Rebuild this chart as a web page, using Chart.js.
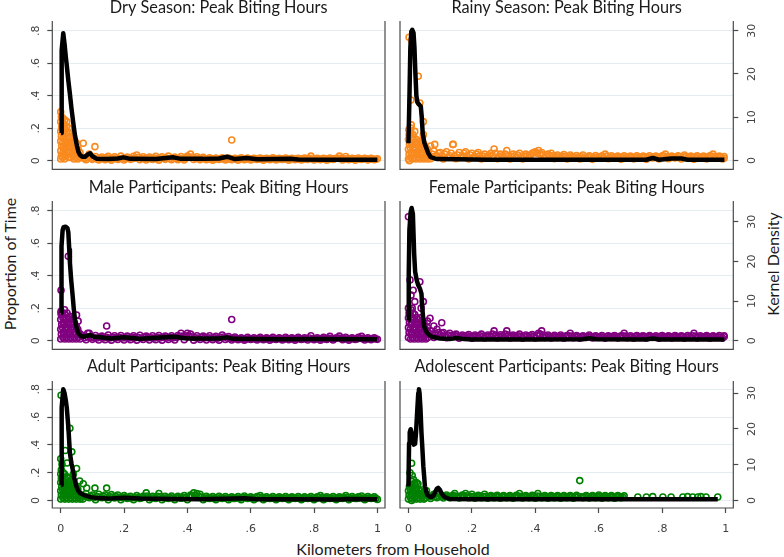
<!DOCTYPE html>
<html>
<head>
<meta charset="utf-8">
<script src="https://cdn.jsdelivr.net/npm/chart.js@4.4.1/dist/chart.umd.min.js"></script>
<style>
  html, body { margin: 0; padding: 0; background: #fff; }
  #page { position: relative; width: 784px; height: 557px; overflow: hidden; font-family: Lato, sans-serif; color: #1a1a1a; }
  #page canvas { position: absolute; }
  .lab { position: absolute; font-size: 16px; line-height: 1; white-space: nowrap; transform: translate(-50%, -50%); }
  .rot { transform: translate(-50%, -50%) rotate(-90deg); }
</style>
</head>
<body>
<div id="page">
  <div class="lab rot" style="left:10px; top:264px">Proportion of Time</div>
  <div class="lab rot" style="left:773px; top:264px">Kernel Density</div>
  <div class="lab" style="left:393px; top:549px">Kilometers from Household</div>
</div>
<script>
/* --------------- Tick labels --------------------- */
const kmTicks = [0, .2, .4, .6, .8, 1];
const propTicks = [0, .2, .4, .6, .8];
const densTicks = [0, 10, 20, 30];

const titles = [
    "Dry Season: Peak Biting Hours",
    "Rainy Season: Peak Biting Hours",
    "Male Participants: Peak Biting Hours",
    "Female Participants: Peak Biting Hours",
    "Adult Participants: Peak Biting Hours",
    "Adolescent Participants: Peak Biting Hours"
];

/* --------------- Proportion of time [km, proportion] --------------------- */
const dryPts = [
    [0,.30],[.002,.27],[0,.24],[.003,.21],[0,.18],[.002,.15],[0,.12],[.003,.09],[0,.06],[.002,.03],[0,.01],
    [.007,.26],[.008,.23],[.006,.20],[.008,.17],[.007,.14],[.006,.11],[.008,.08],[.007,.05],[.006,.02],
    [.013,.25],[.012,.22],[.014,.19],[.012,.16],[.013,.13],[.014,.10],[.012,.07],[.013,.04],[.012,.01],
    [.019,.24],[.018,.21],[.02,.18],[.019,.15],[.018,.12],[.02,.09],[.019,.06],[.018,.03],
    [.025,.20],[.026,.17],[.024,.14],[.025,.11],[.026,.08],[.024,.05],[.025,.02],
    [.031,.17],[.03,.14],[.032,.11],[.031,.08],[.03,.05],[.032,.02],
    [.037,.15],[.038,.12],[.036,.09],[.037,.06],[.038,.03],
    [.043,.13],[.042,.10],[.044,.07],[.043,.04],[.042,.01],
    [.049,.11],[.048,.08],[.05,.05],[.049,.02],
    [.055,.07],[.056,.04],[.054,.01],[.061,.05],[.062,.02],
    [.071,.107],[.108,.086],[.54,.127],[.09,.04],
    [.07,.02],[.08,.005],[.09,.028],[.10,.008],[.11,.025],[.12,.004],[.13,.022],[.14,.006],[.15,.026],[.16,.003],
    [.17,.024],[.18,.007],[.19,.028],[.20,.004],[.21,.022],[.22,.008],[.23,.026],[.24,.035],[.25,.006],[.26,.024],
    [.27,.004],[.28,.022],[.29,.007],[.30,.026],[.31,.003],[.32,.024],[.33,.008],[.34,.028],[.35,.005],[.36,.022],
    [.37,.006],[.38,.025],[.39,.004],[.40,.028],[.41,.04],[.42,.007],[.43,.024],[.44,.005],[.45,.02],[.46,.006],
    [.47,.018],[.48,.003],[.49,.016],[.50,.007],[.51,.018],[.52,.004],[.53,.016],[.54,.006],[.55,.015],[.56,.003],
    [.57,.018],[.58,.006],[.59,.016],[.60,.004],[.61,.014],[.62,.007],[.63,.016],[.64,.003],[.65,.015],[.66,.006],
    [.67,.017],[.68,.004],[.69,.014],[.70,.007],[.71,.016],[.72,.003],[.73,.015],[.74,.006],[.75,.014],[.76,.004],
    [.77,.016],[.78,.007],[.79,.028],[.80,.004],[.81,.015],[.82,.006],[.83,.014],[.84,.003],[.85,.016],[.86,.007],
    [.87,.015],[.88,.028],[.89,.004],[.90,.025],[.91,.006],[.92,.014],[.93,.003],[.94,.016],[.95,.007],[.96,.015],
    [.97,.004],[.98,.014],[.99,.006],[1,.012]
];
const dryBand = [
    [.075,.012],[.085,.018],[.095,.014],[.105,.016],[.115,.01],[.125,.015],[.135,.012],[.145,.017],[.155,.012],[.165,.014],
    [.175,.016],[.185,.012],[.195,.015],[.205,.013],[.215,.017],[.225,.012],[.235,.015],[.245,.02],[.255,.014],[.265,.012],
    [.275,.016],[.285,.013],[.295,.015],[.305,.012],[.315,.016],[.325,.014],[.335,.015],[.345,.012],[.355,.017],[.365,.013],
    [.375,.015],[.385,.012],[.395,.016],[.405,.02],[.415,.022],[.425,.014],[.435,.012],[.445,.014],[.455,.011],[.465,.01],
    [.475,.012],[.485,.009],[.495,.011],[.505,.01],[.515,.012],[.525,.009],[.535,.011],[.545,.01],[.555,.009],[.565,.011],
    [.575,.01],[.585,.012],[.595,.009],[.605,.01],[.615,.011],[.625,.009],[.635,.01],[.645,.011],[.655,.009],[.665,.01],
    [.675,.011],[.685,.009],[.695,.01],[.705,.011],[.715,.009],[.725,.01],[.735,.011],[.745,.009],[.755,.01],[.765,.011],
    [.775,.009],[.785,.015],[.795,.01],[.805,.011],[.815,.009],[.825,.01],[.835,.011],[.845,.009],[.855,.01],[.865,.011],
    [.875,.014],[.885,.015],[.895,.012],[.905,.011],[.915,.009],[.925,.01],[.935,.011],[.945,.009],[.955,.01],[.965,.011],
    [.975,.009],[.985,.01],[.995,.008]
];
const rainyPts = [
    [0,.01],[.002,.04],[0,.07],[.003,.10],[0,.13],[.002,.16],[.001,.19],
    [.007,.02],[.008,.05],[.006,.08],[.008,.11],[.007,.14],[.006,.17],[.008,.2],
    [.013,.01],[.012,.04],[.014,.07],[.012,.10],[.013,.13],[.014,.16],
    [.019,.02],[.018,.05],[.02,.08],[.019,.11],[.018,.14],
    [.025,.01],[.026,.04],[.024,.07],[.025,.10],[.026,.13],
    [.031,.02],[.03,.05],[.032,.08],[.031,.11],
    [.037,.01],[.038,.04],[.036,.07],[.037,.10],[.038,.12],
    [.043,.02],[.042,.05],[.044,.08],[.043,.11],
    [.049,.01],[.048,.04],[.05,.07],[.049,.10],
    [.055,.02],[.056,.05],[.054,.08],[.061,.01],[.062,.04],[.06,.07],
    [.002,.76],[.01,.74],[.008,.373],[.031,.52],[.036,.355],[.047,.24],[.047,.16],[.083,.10],[.141,.10],
    [.005,.165],[.009,.22],[.003,0],[.07,.09],[.02,.18],
    [.06,.05],[.07,.012],[.08,.06],[.09,.03],[.10,.05],[.11,.01],[.12,.055],[.13,.03],[.14,.1],[.15,.012],
    [.16,.05],[.17,.03],[.18,.055],[.19,.01],[.20,.045],[.21,.025],[.22,.05],[.23,.01],[.24,.04],[.25,.025],
    [.26,.045],[.27,.072],[.28,.012],[.29,.04],[.30,.02],[.31,.062],[.32,.01],[.33,.04],[.34,.02],[.35,.045],
    [.36,.01],[.37,.04],[.38,.022],[.39,.045],[.40,.055],[.41,.062],[.42,.05],[.43,.015],[.44,.04],[.45,.045],
    [.46,.012],[.47,.035],[.48,.02],[.49,.038],[.50,.01],[.51,.035],[.52,.02],[.53,.032],[.54,.01],[.55,.035],
    [.56,.018],[.57,.03],[.58,.008],[.59,.032],[.60,.018],[.61,.03],[.62,.04],[.63,.012],[.64,.03],[.65,.018],
    [.66,.028],[.67,.008],[.68,.03],[.69,.016],[.70,.028],[.71,.01],[.72,.03],[.73,.016],[.74,.028],[.75,.008],
    [.76,.03],[.77,.016],[.78,.028],[.79,.01],[.80,.03],[.81,.04],[.82,.012],[.83,.028],[.84,.016],[.85,.03],
    [.86,.01],[.87,.035],[.88,.016],[.89,.028],[.90,.008],[.91,.03],[.92,.016],[.93,.028],[.94,.01],[.95,.03],
    [.96,.04],[.97,.014],[.98,.028],[.99,.01],[.995,.025]
];
const rainyBand = [
    [.065,.03],[.075,.04],[.085,.025],[.095,.045],[.105,.03],[.115,.04],[.125,.02],[.135,.045],[.145,.03],[.155,.035],
    [.165,.02],[.175,.045],[.185,.03],[.195,.035],[.205,.02],[.215,.04],[.225,.03],[.235,.028],[.245,.018],[.255,.035],
    [.265,.03],[.275,.045],[.285,.025],[.295,.03],[.305,.04],[.315,.03],[.325,.025],[.335,.03],[.345,.035],[.355,.025],
    [.365,.028],[.375,.03],[.385,.035],[.395,.05],[.405,.045],[.415,.04],[.425,.035],[.435,.028],[.445,.03],[.455,.03],
    [.465,.025],[.475,.022],[.485,.028],[.495,.024],[.505,.022],[.515,.025],[.525,.02],[.535,.022],[.545,.024],[.555,.02],
    [.565,.022],[.575,.024],[.585,.02],[.595,.022],[.605,.024],[.615,.02],[.625,.028],[.635,.022],[.645,.02],[.655,.024],
    [.665,.02],[.675,.022],[.685,.02],[.695,.024],[.705,.02],[.715,.022],[.725,.02],[.735,.024],[.745,.02],[.755,.022],
    [.765,.02],[.775,.024],[.785,.02],[.795,.022],[.805,.028],[.815,.024],[.825,.02],[.835,.022],[.845,.02],[.855,.024],
    [.865,.022],[.875,.025],[.885,.02],[.895,.022],[.905,.02],[.915,.024],[.925,.02],[.935,.022],[.945,.02],[.955,.028],
    [.965,.025],[.975,.02],[.985,.022],[.995,.015]
];
const malePts = [
    [0,.01],[.002,.04],[0,.07],[.003,.10],[0,.13],[.002,.16],[.001,.18],
    [.007,.02],[.008,.05],[.006,.08],[.008,.11],[.007,.14],[.006,.17],
    [.013,.01],[.012,.04],[.014,.07],[.012,.10],[.013,.13],[.014,.16],
    [.019,.02],[.018,.05],[.02,.08],[.019,.11],[.018,.14],[.02,.17],
    [.025,.01],[.026,.04],[.024,.07],[.025,.10],[.026,.13],
    [.031,.02],[.03,.05],[.032,.08],[.031,.11],[.03,.14],
    [.037,.01],[.038,.04],[.036,.07],[.037,.10],[.038,.13],
    [.043,.02],[.042,.05],[.044,.08],[.043,.11],
    [.049,.01],[.048,.04],[.05,.07],[.049,.09],
    [.055,.02],[.056,.05],[.054,.07],[.061,.01],[.062,.04],
    [.001,.31],[.001,.17],[.024,.52],[.05,.158],[.029,.15],[.055,.12],[.145,.09],[.54,.13],[.085,.045],[.012,.19],
    [.07,.03],[.08,.005],[.09,.045],[.10,.008],[.11,.032],[.12,.004],[.13,.028],[.14,.006],[.15,.035],[.16,.003],
    [.17,.03],[.18,.007],[.19,.032],[.20,.004],[.21,.028],[.22,.006],[.23,.03],[.24,.003],[.25,.033],[.26,.007],
    [.27,.028],[.28,.004],[.29,.03],[.30,.006],[.31,.032],[.32,.003],[.33,.028],[.34,.007],[.35,.03],[.36,.004],
    [.37,.032],[.38,.045],[.39,.006],[.40,.045],[.41,.04],[.42,.003],[.43,.03],[.44,.007],[.45,.028],[.46,.004],
    [.47,.03],[.48,.006],[.49,.026],[.50,.003],[.51,.035],[.52,.007],[.53,.025],[.54,.004],[.55,.022],[.56,.006],
    [.57,.018],[.58,.003],[.59,.02],[.60,.007],[.61,.018],[.62,.004],[.63,.02],[.64,.006],[.65,.017],[.66,.003],
    [.67,.02],[.68,.007],[.69,.018],[.70,.004],[.71,.02],[.72,.006],[.73,.017],[.74,.003],[.75,.02],[.76,.007],
    [.77,.018],[.78,.004],[.79,.03],[.80,.006],[.81,.018],[.82,.003],[.83,.02],[.84,.007],[.85,.026],[.86,.004],
    [.87,.018],[.88,.028],[.89,.006],[.90,.02],[.91,.003],[.92,.018],[.93,.007],[.94,.02],[.95,.026],[.96,.004],
    [.97,.018],[.98,.006],[.99,.017],[1,.008]
];
const maleBand = [
    [.075,.018],[.085,.022],[.095,.02],[.105,.018],[.115,.016],[.125,.02],[.135,.017],[.145,.02],[.155,.016],[.165,.019],
    [.175,.017],[.185,.02],[.195,.016],[.205,.018],[.215,.016],[.225,.02],[.235,.017],[.245,.019],[.255,.016],[.265,.02],
    [.275,.017],[.285,.018],[.295,.016],[.305,.02],[.315,.017],[.325,.019],[.335,.016],[.345,.02],[.355,.017],[.365,.019],
    [.375,.025],[.385,.028],[.395,.03],[.405,.028],[.415,.022],[.425,.018],[.435,.016],[.445,.019],[.455,.017],[.465,.018],
    [.475,.016],[.485,.017],[.495,.015],[.505,.02],[.515,.022],[.525,.016],[.535,.014],[.545,.013],[.555,.012],[.565,.011],
    [.575,.012],[.585,.01],[.595,.012],[.605,.011],[.615,.01],[.625,.012],[.635,.011],[.645,.01],[.655,.012],[.665,.011],
    [.675,.01],[.685,.012],[.695,.011],[.705,.01],[.715,.012],[.725,.011],[.735,.01],[.745,.012],[.755,.011],[.765,.01],
    [.775,.012],[.785,.016],[.795,.012],[.805,.011],[.815,.01],[.825,.012],[.835,.011],[.845,.014],[.855,.012],[.865,.011],
    [.875,.016],[.885,.014],[.895,.011],[.905,.01],[.915,.012],[.925,.011],[.935,.01],[.945,.014],[.955,.012],[.965,.011],
    [.975,.01],[.985,.012],[.995,.01]
];
const femalePts = [
    [0,.02],[.002,.05],[0,.08],[.003,.11],[0,.14],[.002,.17],[0,.2],
    [.007,.01],[.008,.04],[.006,.07],[.008,.10],[.007,.13],[.006,.16],[.008,.19],
    [.013,.02],[.012,.05],[.014,.08],[.012,.11],[.013,.14],[.014,.17],[.012,.2],
    [.019,.01],[.018,.04],[.02,.07],[.019,.10],[.018,.13],[.02,.16],
    [.025,.02],[.026,.05],[.024,.08],[.025,.11],[.026,.14],
    [.031,.01],[.03,.04],[.032,.07],[.031,.10],[.03,.13],
    [.037,.02],[.038,.05],[.036,.08],[.037,.11],[.038,.14],
    [.043,.01],[.042,.04],[.044,.07],[.043,.10],
    [.049,.02],[.048,.05],[.05,.08],[.049,.11],
    [.055,.01],[.056,.04],[.054,.07],[.061,.02],[.062,.05],[.06,.08],
    [0,.763],[.005,.374],[.036,.363],[.047,.24],[.008,.28],[.068,.138],[.105,.11],[.015,.31],[.02,.24],[.04,.2],
    [.06,.12],[.08,.09],
    [.07,.06],[.08,.02],[.09,.07],[.10,.035],[.11,.05],[.12,.018],[.13,.045],[.14,.025],[.15,.04],[.16,.015],
    [.17,.035],[.18,.022],[.19,.038],[.20,.015],[.21,.035],[.22,.02],[.23,.04],[.24,.016],[.25,.035],[.26,.022],
    [.27,.06],[.28,.016],[.29,.036],[.30,.02],[.31,.06],[.32,.016],[.33,.035],[.34,.022],[.35,.04],[.36,.015],
    [.37,.035],[.38,.02],[.39,.038],[.40,.016],[.41,.045],[.42,.06],[.43,.02],[.44,.035],[.45,.016],[.46,.033],
    [.47,.02],[.48,.035],[.49,.015],[.50,.032],[.51,.045],[.52,.018],[.53,.032],[.54,.015],[.55,.03],[.56,.02],
    [.57,.035],[.58,.016],[.59,.03],[.60,.02],[.61,.032],[.62,.015],[.63,.03],[.64,.02],[.65,.032],[.66,.016],
    [.67,.03],[.68,.045],[.69,.018],[.70,.03],[.71,.015],[.72,.032],[.73,.02],[.74,.03],[.75,.016],[.76,.032],
    [.77,.02],[.78,.03],[.79,.015],[.80,.032],[.81,.02],[.82,.03],[.83,.016],[.84,.032],[.85,.02],[.86,.03],
    [.87,.015],[.88,.032],[.89,.02],[.90,.045],[.91,.016],[.92,.03],[.93,.02],[.94,.032],[.95,.015],[.96,.03],
    [.97,.02],[.98,.032],[.99,.016],[.995,.03]
];
const femaleBand = [
    [.075,.04],[.085,.045],[.095,.05],[.105,.045],[.115,.03],[.125,.035],[.135,.03],[.145,.032],[.155,.028],[.165,.026],
    [.175,.028],[.185,.03],[.195,.026],[.205,.025],[.215,.028],[.225,.03],[.235,.026],[.245,.025],[.255,.028],[.265,.04],
    [.275,.035],[.285,.026],[.295,.028],[.305,.04],[.315,.035],[.325,.026],[.335,.028],[.345,.03],[.355,.026],[.365,.025],
    [.375,.028],[.385,.03],[.395,.026],[.405,.03],[.415,.04],[.425,.035],[.435,.026],[.445,.025],[.455,.024],[.465,.026],
    [.475,.025],[.485,.024],[.495,.026],[.505,.03],[.515,.028],[.525,.024],[.535,.025],[.545,.022],[.555,.025],[.565,.026],
    [.575,.024],[.585,.022],[.595,.025],[.605,.024],[.615,.022],[.625,.025],[.635,.024],[.645,.026],[.655,.022],[.665,.024],
    [.675,.03],[.685,.028],[.695,.024],[.705,.022],[.715,.025],[.725,.024],[.735,.026],[.745,.022],[.755,.024],[.765,.025],
    [.775,.022],[.785,.024],[.795,.026],[.805,.022],[.815,.025],[.825,.024],[.835,.022],[.845,.026],[.855,.024],[.865,.025],
    [.875,.022],[.885,.024],[.895,.03],[.905,.028],[.915,.024],[.925,.022],[.935,.025],[.945,.024],[.955,.022],[.965,.025],
    [.975,.024],[.985,.022],[.995,.024]
];
const adultPts = [
    [0,.01],[.002,.04],[0,.07],[.003,.10],[0,.13],[.002,.16],[0,.19],[.002,.22],
    [.007,.02],[.008,.05],[.006,.08],[.008,.11],[.007,.14],[.006,.17],[.008,.2],
    [.013,.01],[.012,.04],[.014,.07],[.012,.10],[.013,.13],[.014,.16],[.012,.19],
    [.019,.02],[.018,.05],[.02,.08],[.019,.11],[.018,.14],[.02,.17],
    [.025,.01],[.026,.04],[.024,.07],[.025,.10],[.026,.13],[.024,.16],
    [.031,.02],[.03,.05],[.032,.08],[.031,.11],[.03,.14],
    [.037,.01],[.038,.04],[.036,.07],[.037,.10],[.038,.13],
    [.043,.02],[.042,.05],[.044,.08],[.043,.11],
    [.049,.01],[.048,.04],[.05,.07],[.049,.10],
    [.055,.02],[.056,.05],[.054,.08],[.061,.01],[.062,.04],
    [.001,.757],[.029,.52],[.035,.35],[.014,.36],[0,.30],[.05,.23],[.071,.12],[.082,.09],[.108,.089],[.145,.089],
    [.004,.26],[.02,.27],[.04,.19],[.06,.14],
    [.06,.045],[.07,.01],[.08,.05],[.09,.02],[.10,.04],[.11,.006],[.12,.045],[.13,.02],[.14,.04],[.15,.006],
    [.16,.042],[.17,.018],[.18,.04],[.19,.005],[.20,.035],[.21,.015],[.22,.03],[.23,.005],[.24,.035],[.25,.015],
    [.26,.03],[.27,.055],[.28,.006],[.29,.03],[.30,.015],[.31,.05],[.32,.005],[.33,.03],[.34,.014],[.35,.032],
    [.36,.005],[.37,.03],[.38,.016],[.39,.035],[.40,.006],[.41,.04],[.42,.055],[.43,.05],[.44,.045],[.45,.006],
    [.46,.03],[.47,.015],[.48,.028],[.49,.005],[.50,.03],[.51,.014],[.52,.028],[.53,.005],[.54,.026],[.55,.015],
    [.56,.028],[.57,.006],[.58,.032],[.59,.014],[.60,.026],[.61,.005],[.62,.028],[.63,.035],[.64,.006],[.65,.026],
    [.66,.014],[.67,.028],[.68,.005],[.69,.026],[.70,.015],[.71,.028],[.72,.006],[.73,.026],[.74,.014],[.75,.028],
    [.76,.005],[.77,.026],[.78,.015],[.79,.028],[.80,.006],[.81,.026],[.82,.035],[.83,.005],[.84,.026],[.85,.014],
    [.86,.028],[.87,.006],[.88,.026],[.89,.015],[.90,.035],[.91,.006],[.92,.028],[.93,.014],[.94,.026],[.95,.032],
    [.96,.005],[.97,.028],[.98,.015],[.99,.026],[1,.008]
];
const adultBand = [
    [.065,.025],[.075,.03],[.085,.025],[.095,.03],[.105,.022],[.115,.028],[.125,.025],[.135,.03],[.145,.022],[.155,.026],
    [.165,.024],[.175,.028],[.185,.022],[.195,.02],[.205,.024],[.215,.02],[.225,.018],[.235,.02],[.245,.022],[.255,.018],
    [.265,.03],[.275,.032],[.285,.018],[.295,.02],[.305,.03],[.315,.028],[.325,.018],[.335,.02],[.345,.022],[.355,.018],
    [.365,.02],[.375,.022],[.385,.02],[.395,.022],[.405,.025],[.415,.035],[.425,.035],[.435,.03],[.445,.025],[.455,.018],
    [.465,.02],[.475,.018],[.485,.016],[.495,.018],[.505,.02],[.515,.016],[.525,.018],[.535,.016],[.545,.015],[.555,.018],
    [.565,.016],[.575,.02],[.585,.022],[.595,.018],[.605,.016],[.615,.018],[.625,.022],[.635,.02],[.645,.016],[.655,.018],
    [.665,.016],[.675,.018],[.685,.015],[.695,.018],[.705,.016],[.715,.018],[.725,.015],[.735,.018],[.745,.016],[.755,.018],
    [.765,.015],[.775,.018],[.785,.016],[.795,.018],[.805,.016],[.815,.022],[.825,.02],[.835,.015],[.845,.018],[.855,.016],
    [.865,.018],[.875,.015],[.885,.018],[.895,.022],[.905,.02],[.915,.016],[.925,.018],[.935,.015],[.945,.02],[.955,.018],
    [.965,.015],[.975,.018],[.985,.016],[.995,.015]
];
const adolPts = [
    [0,.01],[.002,.04],[0,.07],[.003,.10],
    [.007,.02],[.008,.05],[.006,.08],[.008,.11],
    [.013,.01],[.012,.04],[.014,.07],[.012,.10],
    [.019,.02],[.018,.05],[.02,.08],[.019,.11],
    [.025,.01],[.026,.04],[.024,.07],[.025,.09],
    [.031,.02],[.03,.05],[.032,.08],
    [.037,.01],[.038,.04],[.036,.07],
    [.043,.02],[.042,.05],[.044,.075],
    [.049,.01],[.048,.04],[.05,.06],[.055,.02],[.056,.045],
    [.01,.268],[.005,.2],[.012,.18],[.02,.124],[.016,.15],[.057,.07],[.54,.143],[.01,0],[.025,.13],[.03,.12],[.008,.14],
    [.06,.04],[.07,.015],[.08,.045],[.09,.02],[.097,.05],[.11,.018],[.12,.04],[.13,.02],[.14,.038],[.146,.05],
    [.16,.018],[.17,.04],[.18,.05],[.19,.02],[.20,.045],[.21,.016],[.22,.038],[.23,.02],[.24,.045],[.25,.016],
    [.26,.035],[.27,.02],[.28,.038],[.29,.016],[.30,.035],[.31,.02],[.32,.036],[.33,.016],[.34,.038],[.35,.05],
    [.36,.018],[.37,.035],[.38,.02],[.39,.038],[.40,.016],[.408,.05],[.42,.02],[.43,.035],[.44,.016],[.45,.036],
    [.46,.02],[.47,.035],[.48,.016],[.49,.036],[.50,.02],[.51,.035],[.52,.016],[.53,.038],[.55,.02],[.56,.036],
    [.57,.018],[.58,.035],[.59,.02],[.60,.04],[.61,.016],[.62,.035],[.63,.02],[.64,.036],[.65,.016],[.66,.035],
    [.67,.02],[.68,.034],[.723,.025],[.75,.025],[.77,.028],[.802,.025],[.828,.025],[.865,.025],[.88,.028],[.896,.025],
    [.912,.025],[.922,.028],[.938,.025],[.975,.025]
];
const adolBand = [
    [.065,.028],[.075,.03],[.085,.028],[.095,.032],[.105,.03],[.115,.028],[.125,.03],[.135,.028],[.145,.032],[.155,.03],
    [.165,.028],[.175,.032],[.185,.034],[.195,.03],[.205,.028],[.215,.027],[.225,.03],[.235,.028],[.245,.03],[.255,.027],
    [.265,.028],[.275,.03],[.285,.027],[.295,.028],[.305,.027],[.315,.028],[.325,.026],[.335,.028],[.345,.032],[.355,.03],
    [.365,.027],[.375,.028],[.385,.026],[.395,.028],[.405,.032],[.415,.03],[.425,.027],[.435,.026],[.445,.028],[.455,.027],
    [.465,.026],[.475,.028],[.485,.027],[.495,.026],[.505,.028],[.515,.026],[.525,.027],[.535,.028],[.545,.026],[.555,.027],
    [.565,.028],[.575,.026],[.585,.027],[.595,.03],[.605,.028],[.615,.026],[.625,.027],[.635,.028],[.645,.026],[.655,.027],
    [.665,.028],[.675,.026]
];

/* --------------- Kernel density [km, density] --------------------- */
const dryKd = [[.001,6.4],[.002,16],[.004,25.5],[.008,29.4],[.012,27],[.016,24],[.019,22],[.024,18.5],[.029,15.4],[.034,12],
    [.04,8.5],[.045,5.8],[.051,3.5],[.056,2.0],[.061,1.3],[.068,0.9],[.077,0.9],[.085,1.4],[.093,1.7],[.1,1.0],[.114,0.4],
    [.15,0.35],[.18,0.5],[.198,0.75],[.22,0.4],[.3,0.35],[.356,0.75],[.38,0.4],[.45,0.4],[.5,0.5],[.525,0.9],[.55,0.35],
    [.588,0.6],[.62,0.3],[.725,0.45],[.75,0.25],[.85,0.2],[1,0.2]];
const rainyKd = [[0,4],[.003,14],[.006,26],[.009,29.8],[.012,30.2],[.016,29.5],[.019,26],[.022,20],[.025,15],[.028,13.5],
    [.033,13],[.039,12.5],[.042,10],[.045,6.3],[.05,4.2],[.056,3.0],[.062,1.8],[.07,0.8],[.09,0.35],[.15,0.3],[.25,0.2],
    [.5,0.2],[.75,0.2],[.77,0.6],[.79,0.2],[.83,0.5],[.86,0.5],[.88,0.2],[.996,0.2]];
const maleKd = [[.001,6.4],[.002,15],[.003,21.8],[.006,25.5],[.009,26.2],[.015,26.3],[.021,26],[.024,25],[.027,21],[.029,18],
    [.033,14],[.038,10.1],[.041,7.5],[.045,4.8],[.05,3.0],[.056,1.7],[.063,1.1],[.071,0.9],[.082,1.1],[.093,1.3],[.105,0.9],
    [.124,0.75],[.16,0.5],[.198,0.75],[.25,0.45],[.356,0.9],[.4,0.5],[.5,0.5],[.525,0.75],[.546,0.4],[.7,0.3],[.8,0.35],[1,0.3]];
const femaleKd = [[0,5.2],[.001,17],[.003,27.9],[.007,32.5],[.01,33.5],[.014,32],[.016,27],[.018,22],[.021,17.5],[.026,15.3],
    [.031,14],[.036,13.2],[.041,11.9],[.044,8],[.047,5.2],[.05,3.5],[.057,2.2],[.065,1.5],[.073,1.0],[.1,0.55],[.13,0.4],
    [.152,0.7],[.175,0.4],[.2,0.3],[.4,0.3],[.55,0.35],[.571,0.6],[.59,0.35],[.75,0.3],[.77,0.55],[.79,0.3],[.996,0.3]];
const adultKd = [[.001,4.2],[.002,13.6],[.004,25.1],[.008,30],[.012,29],[.016,27],[.019,25.1],[.024,19.9],[.029,12.75],[.034,10],
    [.038,8.25],[.043,6],[.048,4.2],[.054,2.8],[.061,2.0],[.077,1.3],[.095,0.9],[.114,0.64],[.15,0.5],[.198,0.75],[.25,0.5],
    [.35,0.4],[.44,0.35],[.52,0.45],[.58,0.6],[.62,0.35],[.75,0.3],[.878,0.25],[.9,0.4],[1,0.3]];
const adolKd = [[0,3.9],[.002,16],[.004,19],[.007,19.9],[.01,19],[.012,18],[.017,15.6],[.021,15.8],[.024,19],[.028,25.5],
    [.031,30],[.033,31.1],[.035,30],[.038,25.5],[.041,19],[.043,16],[.047,9.5],[.052,3.9],[.059,1.6],[.066,1.1],[.073,0.95],
    [.079,1.4],[.084,2.3],[.089,3.2],[.094,3.5],[.099,3.0],[.104,2.1],[.11,1.3],[.115,0.9],[.13,0.4],[.2,0.3],[.4,0.3],
    [.6,0.3],[.8,0.3],[.975,0.3]];

/* --------------- Styles --------------------- */
const orange = "#f98a1f", purple = "#800080", green = "#008000";
const axisColor = "#4a4a4a";
const labelColor = "#404040";
const tickFont = { family: "DejaVu Sans", size: 11 };
const xRange = [-0.0266, 1.024];
const propRange = [-0.054, 0.86];
const rowTop = [-2, 178, 357];
const rowHeight = [176, 176, 181];

const panels = [
    { title: titles[0], pts: dryPts.concat(dryBand), kd: dryKd, color: orange, row: 0, col: 0, dens: [-2.03, 32.24] },
    { title: titles[1], pts: rainyPts.concat(rainyBand), kd: rainyKd, color: orange, row: 0, col: 1, dens: [-2.03, 32.24] },
    { title: titles[2], pts: malePts.concat(maleBand), kd: maleKd, color: purple, row: 1, col: 0, dens: [-2.03, 32.24] },
    { title: titles[3], pts: femalePts.concat(femaleBand), kd: femaleKd, color: purple, row: 1, col: 1, dens: [-2.2, 35.28] },
    { title: titles[4], pts: adultPts.concat(adultBand), kd: adultKd, color: green, row: 2, col: 0, dens: [-2.03, 32.24] },
    { title: titles[5], pts: adolPts.concat(adolBand), kd: adolKd, color: green, row: 2, col: 1, dens: [-2.12, 33.4] }
];

function fmt(v) {
    if (v === 0) return "0";
    return String(+v.toFixed(2)).replace(/^0\./, ".");
}

/* --------------- Frame: left, bottom, right lines --------------------- */
const frame = {
    id: "frame",
    afterDraw(chart) {
        const { ctx, chartArea: a } = chart;
        ctx.save();
        ctx.strokeStyle = axisColor;
        ctx.lineWidth = 1.2;
        ctx.beginPath();
        ctx.moveTo(a.left, a.top);
        ctx.lineTo(a.left, a.bottom);
        ctx.lineTo(a.right, a.bottom);
        ctx.lineTo(a.right, a.top);
        ctx.stroke();
        ctx.restore();
    }
};

/* --------------- Vertical tick labels --------------------- */
const rotLabels = {
    id: "rotLabels",
    afterDraw(chart, args, opts) {
        const s = chart.scales[opts.axis];
        const ctx = chart.ctx;
        const x = opts.axis === "y" ? s.right + opts.dx : s.left + opts.dx;
        ctx.save();
        ctx.fillStyle = labelColor;
        ctx.font = tickFont.size + "px '" + tickFont.family + "'";
        ctx.textAlign = "center";
        ctx.textBaseline = "middle";
        s.ticks.forEach(t => {
            ctx.save();
            ctx.translate(x, s.getPixelForValue(t.value));
            ctx.rotate(-Math.PI / 2);
            ctx.fillText(fmt(t.value), 0, 0);
            ctx.restore();
        });
        ctx.restore();
    }
};

/* --------------- Charts --------------------- */
const page = document.getElementById("page");
panels.forEach(p => {
    const left = p.col === 0;
    const bottom = p.row === 2;
    const canvas = document.createElement("canvas");
    canvas.width = 392;
    canvas.height = rowHeight[p.row];
    canvas.style.left = (left ? 0 : 392) + "px";
    canvas.style.top = rowTop[p.row] + "px";
    page.appendChild(canvas);

    new Chart(canvas, {
        type: "scatter",
        data: {
            datasets: [
                {
                    data: p.kd, yAxisID: "y2", showLine: true, borderColor: "#000", borderWidth: 4.5,
                    pointRadius: 0, pointHoverRadius: 0, tension: 0, borderJoinStyle: "round", order: 0
                },
                {
                    data: p.pts, yAxisID: "y", borderColor: p.color, backgroundColor: "rgba(0,0,0,0)",
                    pointRadius: 3, pointHoverRadius: 3, borderWidth: 1.6, order: 1
                }
            ]
        },
        options: {
            responsive: false,
            animation: false,
            events: [],
            layout: { padding: { left: left ? 0 : 8, right: left ? 7 : 0, top: 0, bottom: bottom ? 0 : 4.5 } },
            plugins: {
                legend: { display: false },
                tooltip: { enabled: false },
                title: {
                    display: true, text: p.title, color: "#1a1a1a", fullSize: false,
                    font: { family: "Lato", size: 16.3, weight: "normal" },
                    padding: { top: 0, bottom: bottom ? 4.4 : 3.4 }
                },
                rotLabels: { axis: left ? "y" : "y2", dx: left ? -16.5 : 18.4 }
            },
            scales: {
                x: {
                    type: "linear", min: xRange[0], max: xRange[1], display: bottom,
                    afterBuildTicks: s => { s.ticks = kmTicks.map(v => ({ value: v })); },
                    afterFit: s => { s.height = bottom ? 30 : 0; s.paddingLeft = 0; s.paddingRight = 0; },
                    border: { display: false },
                    grid: { drawOnChartArea: false, drawTicks: true, tickLength: 5, tickColor: axisColor, tickWidth: 1.2 },
                    ticks: { autoSkip: false, minRotation: 0, maxRotation: 0, padding: 10, color: labelColor, font: tickFont, callback: fmt }
                },
                y: {
                    type: "linear", position: "left", min: propRange[0], max: propRange[1],
                    afterBuildTicks: s => { s.ticks = propTicks.map(v => ({ value: v })); },
                    afterFit: s => { s.width = left ? 52.3 : 0; s.paddingTop = 0; s.paddingBottom = 0; },
                    border: { display: false },
                    grid: { color: "#e3ecef", lineWidth: 1, drawTicks: left, tickLength: 5, tickColor: axisColor, tickWidth: 1.2 },
                    ticks: { display: false, callback: fmt }
                },
                y2: {
                    type: "linear", position: "right", display: !left, min: p.dens[0], max: p.dens[1],
                    afterBuildTicks: s => { s.ticks = densTicks.map(v => ({ value: v })); },
                    afterFit: s => { s.width = left ? 0 : 50.7; s.paddingTop = 0; s.paddingBottom = 0; },
                    border: { display: false },
                    grid: { drawOnChartArea: false, drawTicks: true, tickLength: 5, tickColor: axisColor, tickWidth: 1.2 },
                    ticks: { display: false, callback: fmt }
                }
            }
        },
        plugins: [frame, rotLabels]
    });
});
</script>
</body>
</html>
